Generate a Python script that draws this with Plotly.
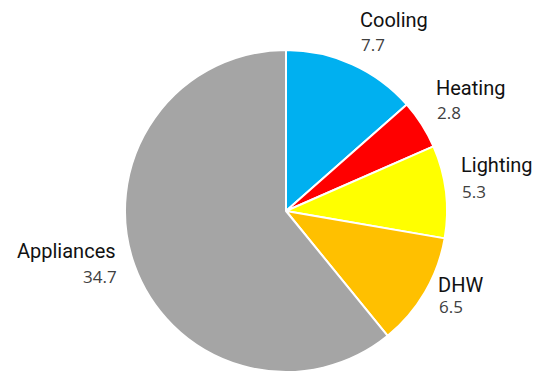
import plotly.graph_objects as go

# End-use breakdown
categories = ["Cooling", "Heating", "Lighting", "DHW", "Appliances"]
values = [7.7, 2.8, 5.3, 6.5, 34.7]
colors = ["#00B0F0", "#FF0000", "#FFFF00", "#FFC000", "#A5A5A5"]

W, H = 538, 372

# Label placement (pixels): name anchor x, name centre y, value centre y, side
label_layout = {
    "Cooling":    (358, 20, 44, "left"),
    "Heating":    (434, 88, 113, "left"),
    "Lighting":   (459, 165, 191, "left"),
    "DHW":        (436, 285, 306, "left"),
    "Appliances": (118, 251, 276, "right"),
}

fig = go.Figure(
    go.Pie(
        labels=categories,
        values=values,
        marker=dict(colors=colors, line=dict(color="white", width=2)),
        sort=False,
        direction="clockwise",
        rotation=0,
        textinfo="none",
        hoverinfo="label+value",
        domain=dict(x=[123 / W, 449 / W], y=[0, 1 - 50 / H]),
        showlegend=False,
    )
)

annotations = []
for name, val in zip(categories, values):
    x, y_name, y_val, side = label_layout[name]
    annotations.append(dict(
        x=x / W, y=1 - y_name / H, xref="paper", yref="paper",
        text=name, showarrow=False, xanchor=side, yanchor="middle",
        font=dict(family="Roboto", size=20, color="#111111"),
    ))
    annotations.append(dict(
        x=(x + (1 if side == "left" else 1)) / W, y=1 - y_val / H,
        xref="paper", yref="paper",
        text=f"{val}", showarrow=False, xanchor=side, yanchor="middle",
        font=dict(family="Open Sans", size=17, color="#404040"),
    ))

fig.update_layout(
    width=W, height=H,
    margin=dict(l=0, r=0, t=0, b=0),
    paper_bgcolor="white",
    plot_bgcolor="white",
    annotations=annotations,
)

fig.write_html("out.html")
